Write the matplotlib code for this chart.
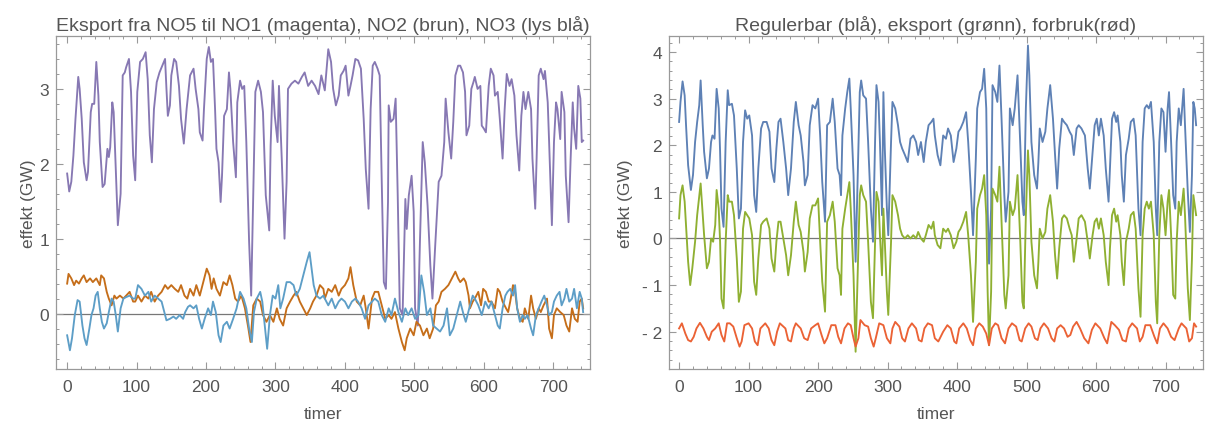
import matplotlib
matplotlib.use("Agg")
import matplotlib.pyplot as plt
from matplotlib.ticker import MultipleLocator, FuncFormatter

plt.rcParams['font.family'] = ['Liberation Sans', 'DejaVu Sans']

# (hour, GW) pairs at the visible turning points
# left panel: export from NO5
no1 = [(0, 1.87), (3, 1.63), (6, 1.76), (9, 2.11), (12, 2.6), (16, 3.16), (18, 3.0), (21, 2.6), (24, 2.02),
       (28, 1.78), (30, 1.89), (34, 2.69), (36, 2.8), (39, 2.8), (42, 3.36), (45, 2.91), (47, 2.29), (51, 1.69),
       (54, 1.73), (58, 2.2), (60, 2.09), (62, 2.22), (65, 2.82), (67, 2.69), (70, 1.93), (73, 1.18), (77, 1.6),
       (80, 3.18), (83, 3.22), (85, 3.29), (89, 3.4), (92, 2.96), (95, 2.11), (98, 1.78), (101, 2.96), (105, 3.36),
       (109, 3.4), (113, 3.49), (116, 3.13), (119, 2.38), (122, 2.02), (125, 2.73), (129, 3.09), (133, 3.22),
       (137, 3.31), (141, 3.4), (143, 3.0), (145, 2.64), (148, 2.78), (150, 3.18), (154, 3.4), (157, 3.36),
       (161, 3.04), (164, 2.6), (168, 2.27), (172, 2.73), (177, 3.18), (182, 3.27), (185, 3.0), (189, 2.73),
       (191, 2.42), (195, 2.31), (197, 2.73), (201, 3.4), (204, 3.56), (207, 3.36), (210, 3.4), (213, 2.73),
       (215, 2.2), (218, 2.02), (221, 1.49), (223, 1.84), (226, 2.64), (230, 2.73), (233, 3.22), (235, 3.0),
       (239, 2.29), (243, 1.82), (245, 2.82), (249, 3.11), (252, 3.0), (255, 3.04), (258, 2.29), (262, 0.96),
       (265, 0.24), (268, 1.58), (271, 2.96), (275, 3.11), (279, 2.96), (282, 2.69), (286, 1.58), (291, 1.11),
       (293, 2.24), (296, 3.11), (299, 2.64), (303, 2.29), (305, 3.04), (309, 2.07), (313, 1.0), (316, 1.76),
       (318, 3.0), (323, 3.07), (328, 3.11), (333, 3.07), (338, 3.16), (342, 3.22), (347, 3.04), (352, 3.11),
       (357, 3.04), (362, 2.93), (366, 3.18), (371, 2.98), (376, 3.53), (380, 3.36), (383, 3.0), (387, 2.78),
       (391, 2.91), (394, 3.18), (398, 3.24), (401, 3.31), (405, 2.91), (408, 3.04), (411, 3.18), (415, 3.4),
       (419, 3.38), (423, 3.27), (427, 2.6), (430, 1.93), (434, 1.4), (437, 2.73), (440, 3.31), (443, 3.36),
       (447, 3.27), (450, 3.18), (453, 1.76), (456, 0.42), (459, 0.33), (462, 1.49), (463, 2.78), (466, 2.56),
       (470, 2.6), (473, 2.87), (476, 1.58), (479, 0.07), (483, -0.02), (487, 1.53), (489, 1.13), (492, 1.58),
       (496, 1.84), (499, 1.36), (501, 0.07), (505, -0.16), (508, 0.96), (512, 2.29), (515, 2.02), (519, 1.44),
       (523, 0.64), (526, 0.2), (530, 0.91), (535, 1.76), (539, 1.84), (543, 2.29), (545, 2.87), (549, 2.42),
       (553, 2.07), (556, 2.56), (559, 3.18), (563, 3.31), (566, 3.31), (570, 3.22), (573, 2.96), (575, 2.38),
       (579, 2.51), (582, 3.0), (585, 3.09), (587, 3.16), (591, 3.0), (595, 3.04), (597, 2.51), (600, 2.47),
       (603, 2.42), (607, 3.04), (610, 3.27), (614, 3.18), (616, 2.91), (620, 2.96), (623, 2.6), (627, 2.07),
       (630, 2.73), (633, 3.2), (637, 3.04), (640, 3.13), (644, 2.91), (647, 2.38), (651, 1.91), (654, 2.64),
       (657, 2.96), (660, 2.73), (664, 2.96), (668, 2.73), (670, 2.07), (674, 1.4), (676, 2.07), (679, 3.18),
       (682, 3.27), (686, 3.13), (688, 3.24), (692, 2.82), (694, 2.29), (698, 1.18), (701, 2.29), (704, 2.82),
       (706, 2.73), (710, 2.33), (712, 2.96), (716, 2.69), (718, 1.84), (722, 1.22), (725, 2.07), (728, 2.82),
       (730, 2.47), (733, 2.2), (736, 3.04), (739, 2.87), (741, 2.29), (743, 2.31)]

no2 = [(0, 0.4), (2, 0.53), (6, 0.47), (10, 0.38), (13, 0.44), (17, 0.4), (21, 0.47), (24, 0.51), (28, 0.42),
       (33, 0.47), (37, 0.42), (42, 0.47), (47, 0.38), (49, 0.51), (53, 0.47), (57, 0.29), (60, 0.2), (64, 0.11),
       (68, 0.24), (71, 0.2), (76, 0.24), (81, 0.2), (85, 0.24), (90, 0.29), (95, 0.16), (98, 0.16), (102, 0.24),
       (107, 0.16), (112, 0.24), (117, 0.2), (121, 0.29), (126, 0.16), (131, 0.24), (136, 0.29), (141, 0.38),
       (145, 0.33), (150, 0.38), (155, 0.33), (160, 0.29), (164, 0.38), (169, 0.24), (173, 0.2), (177, 0.33),
       (182, 0.24), (186, 0.38), (191, 0.24), (196, 0.42), (201, 0.6), (205, 0.51), (208, 0.33), (211, 0.47),
       (215, 0.33), (220, 0.24), (225, 0.42), (230, 0.38), (234, 0.51), (238, 0.38), (242, 0.2), (246, 0.16),
       (251, 0.24), (256, 0.07), (261, -0.2), (264, -0.38), (268, 0.11), (273, 0.2), (278, 0.16), (282, -0.02),
       (287, -0.11), (292, -0.02), (297, -0.11), (302, 0.07), (306, -0.07), (311, -0.16), (316, 0.07), (321, 0.16),
       (326, 0.24), (330, 0.29), (335, 0.16), (340, 0.07), (345, -0.02), (350, 0.07), (354, 0.16), (359, 0.24),
       (364, 0.38), (369, 0.33), (371, 0.2), (376, 0.33), (381, 0.29), (386, 0.38), (391, 0.24), (395, 0.33),
       (400, 0.38), (405, 0.47), (408, 0.62), (412, 0.38), (417, 0.16), (422, 0.11), (427, 0.24), (430, 0.07),
       (434, -0.2), (439, 0.2), (443, 0.29), (448, 0.29), (453, 0.11), (458, -0.07), (463, -0.02), (467, -0.07),
       (472, 0.02), (477, -0.2), (482, -0.38), (486, -0.49), (489, -0.33), (494, -0.2), (499, -0.29), (503, -0.11),
       (508, -0.16), (513, -0.29), (518, -0.2), (522, -0.33), (527, -0.2), (531, 0.11), (535, 0.16), (539, 0.29),
       (544, 0.33), (549, 0.38), (554, 0.47), (559, 0.56), (563, 0.47), (566, 0.42), (571, 0.47), (574, 0.42),
       (578, 0.24), (580, 0.07), (584, 0.16), (587, 0.2), (592, 0.29), (596, 0.11), (599, 0.33), (603, 0.29),
       (607, 0.16), (611, 0.16), (616, 0.07), (620, 0.33), (623, 0.29), (627, 0.16), (632, 0.07), (635, 0.02),
       (638, 0.16), (642, 0.38), (645, 0.29), (648, 0.07), (652, -0.07), (656, -0.11), (659, 0.07), (664, -0.07),
       (668, 0.24), (671, 0.07), (675, -0.07), (679, 0.07), (682, 0.02), (686, 0.11), (691, 0.2), (694, -0.2),
       (698, -0.33), (701, -0.02), (705, 0.07), (710, 0.02), (715, -0.02), (719, -0.16), (723, -0.24), (727, 0.07),
       (731, -0.07), (735, -0.11), (738, 0.16), (741, 0.2), (743, 0.07)]

no3 = [(0, -0.29), (4, -0.49), (7, -0.33), (11, -0.02), (15, 0.18), (18, 0.16), (22, -0.16), (25, -0.33),
       (28, -0.42), (32, -0.2), (35, -0.02), (38, 0.07), (41, 0.24), (44, 0.29), (47, 0.07), (50, -0.11),
       (53, -0.2), (57, -0.13), (60, 0.02), (64, 0.2), (67, 0.16), (70, -0.02), (73, -0.24), (77, 0.07), (81, 0.2),
       (85, 0.22), (90, 0.24), (95, 0.2), (98, 0.2), (102, 0.38), (107, 0.33), (112, 0.24), (117, 0.29),
       (121, 0.16), (126, 0.24), (131, 0.2), (136, 0.16), (140, 0.02), (143, -0.09), (148, -0.07), (153, -0.04),
       (157, -0.07), (162, -0.02), (167, -0.07), (170, 0.02), (174, 0.09), (177, 0.11), (182, 0.07), (186, 0.11),
       (190, -0.07), (194, -0.2), (198, -0.07), (203, 0.07), (207, -0.02), (210, 0.16), (214, 0.02), (218, -0.29),
       (221, -0.38), (225, -0.16), (230, -0.11), (234, -0.2), (239, -0.07), (244, 0.07), (249, 0.29), (254, 0.2),
       (258, 0.07), (262, -0.2), (266, -0.38), (269, 0.02), (273, 0.2), (278, 0.29), (281, 0.16), (285, -0.2),
       (288, -0.47), (292, -0.02), (296, 0.24), (300, 0.2), (304, 0.38), (307, 0.07), (311, 0.2), (316, 0.42),
       (321, 0.42), (326, 0.38), (330, 0.24), (335, 0.33), (340, 0.51), (345, 0.69), (349, 0.82), (352, 0.6),
       (355, 0.38), (359, 0.24), (364, 0.2), (369, 0.24), (371, 0.2), (376, 0.11), (381, 0.2), (386, 0.07),
       (391, 0.16), (395, 0.2), (400, 0.16), (405, 0.07), (410, 0.16), (415, 0.2), (419, 0.16), (424, 0.07),
       (429, -0.07), (434, 0.11), (439, 0.16), (443, 0.2), (448, 0.16), (453, -0.02), (458, -0.11), (463, 0.07),
       (467, -0.02), (472, 0.2), (477, 0.02), (482, -0.11), (487, 0.07), (491, -0.02), (496, 0.07), (501, -0.07),
       (506, -0.02), (510, 0.51), (514, 0.29), (518, -0.02), (523, 0.07), (527, -0.16), (532, -0.2), (537, -0.24),
       (542, -0.16), (547, 0.07), (551, -0.29), (556, -0.2), (561, -0.02), (566, 0.16), (571, -0.02), (574, -0.11),
       (579, 0.07), (584, 0.24), (587, 0.2), (592, 0.11), (597, -0.02), (602, 0.16), (607, 0.07), (611, 0.16),
       (616, -0.02), (620, -0.16), (623, -0.2), (627, 0.07), (631, 0.24), (634, 0.29), (638, 0.33), (642, 0.24),
       (645, 0.38), (648, 0.07), (652, -0.11), (656, -0.02), (659, -0.07), (663, -0.02), (668, -0.2), (671, -0.29),
       (675, -0.02), (679, 0.07), (683, 0.16), (687, 0.24), (691, 0.11), (694, -0.02), (698, 0.02), (701, 0.16),
       (705, 0.24), (709, 0.29), (712, 0.11), (716, 0.2), (719, 0.33), (723, 0.16), (727, 0.2), (730, 0.33),
       (734, 0.07), (738, 0.29), (741, 0.2), (743, 0.02)]

# right panel: regulated production, export, consumption
regulerbar = [(0, 2.5), (2, 2.93), (5, 3.37), (8, 3.07), (10, 2.43), (13, 1.57), (17, 1.04), (20, 1.36), (23, 2.07),
              (26, 2.5), (29, 2.86), (31, 3.39), (34, 2.43), (36, 1.86), (40, 1.29), (43, 1.5), (46, 2.07),
              (48, 2.21), (51, 2.14), (54, 3.21), (57, 2.79), (59, 1.86), (61, 0.64), (64, 0.25), (67, 2.07),
              (70, 3.18), (72, 2.86), (76, 2.89), (79, 2.64), (83, 1.5), (86, 0.43), (89, 0.64), (92, 2.07),
              (95, 2.75), (98, 2.57), (101, 2.64), (105, 2.21), (108, 0.93), (111, 0.57), (114, 1.5), (118, 2.36),
              (121, 2.5), (126, 2.5), (130, 2.29), (133, 1.5), (137, 1.21), (140, 1.93), (143, 2.5), (146, 2.57),
              (150, 2.07), (154, 1.5), (157, 0.93), (161, 1.5), (165, 2.5), (168, 2.93), (172, 2.43), (175, 2.21),
              (179, 1.64), (181, 1.14), (185, 1.36), (188, 2.43), (192, 2.86), (196, 2.79), (200, 3.0), (203, 2.21),
              (206, 1.21), (210, 0.36), (213, 2.43), (217, 2.5), (221, 3.0), (224, 2.5), (228, 1.5), (231, 1.36),
              (233, 0.93), (235, 2.21), (239, 2.79), (242, 3.14), (245, 3.43), (247, 2.79), (251, 1.36), (254, -0.5),
              (257, 1.36), (260, 3.14), (262, 3.39), (265, 3.07), (269, 3.0), (272, 2.07), (276, 0.64), (279, -0.07),
              (282, 2.07), (284, 3.29), (287, 2.93), (289, 2.07), (292, 0.5), (294, 3.14), (296, 1.93), (299, 0.64),
              (301, 0.07), (305, 2.07), (307, 2.93), (311, 2.79), (315, 2.43), (318, 2.07), (321, 1.93), (325, 1.79),
              (329, 1.64), (333, 2.14), (337, 2.21), (341, 2.07), (344, 1.79), (348, 2.07), (352, 1.64), (355, 2.07),
              (359, 2.43), (363, 2.5), (366, 2.57), (368, 2.21), (372, 1.79), (376, 1.57), (380, 2.21), (384, 2.14),
              (387, 2.36), (391, 2.21), (395, 1.64), (399, 1.93), (402, 2.29), (405, 2.36), (409, 2.5), (413, 2.71),
              (416, 2.07), (420, 1.0), (423, 0.07), (427, 1.71), (429, 2.79), (433, 3.14), (436, 3.21), (439, 3.64),
              (442, 2.79), (444, 0.64), (446, -0.54), (449, 0.64), (451, 3.29), (455, 3.14), (458, 2.93), (461, 3.71),
              (464, 2.57), (468, 0.93), (470, 0.36), (474, 1.0), (476, 2.79), (480, 2.43), (483, 2.79), (487, 3.5),
              (491, 2.0), (494, 0.79), (496, 0.5), (499, 2.79), (502, 4.14), (504, 3.5), (507, 2.07), (511, 1.36),
              (515, 1.07), (517, 1.64), (519, 2.36), (523, 2.07), (527, 2.29), (530, 2.79), (534, 3.29), (538, 2.57),
              (541, 1.79), (544, 1.07), (547, 1.93), (551, 2.57), (554, 2.5), (558, 2.43), (562, 2.29), (565, 2.21),
              (568, 1.79), (572, 2.36), (575, 2.43), (579, 2.36), (584, 2.21), (588, 1.5), (591, 1.07), (595, 1.86),
              (598, 2.43), (601, 2.57), (604, 2.21), (607, 2.57), (611, 2.21), (614, 1.5), (618, 0.79), (620, 1.5),
              (623, 2.57), (626, 2.71), (629, 2.5), (631, 2.64), (635, 2.07), (637, 1.36), (640, 0.79), (643, 1.79),
              (647, 2.14), (650, 2.5), (654, 2.57), (657, 2.21), (661, 0.64), (664, 0.07), (667, 2.07), (670, 2.79),
              (673, 2.86), (676, 2.79), (679, 2.93), (683, 2.07), (686, 0.64), (688, 0.07), (691, 2.07), (694, 2.79),
              (697, 2.71), (700, 1.86), (703, 2.79), (705, 3.14), (708, 2.07), (711, 0.93), (714, 0.64), (716, 2.07),
              (719, 2.79), (722, 2.43), (726, 3.21), (728, 2.43), (732, 1.0), (735, 0.14), (738, 1.36), (740, 2.93),
              (742, 2.79), (744, 2.43)]

eksport = [(0, 0.43), (2, 0.93), (5, 1.14), (8, 0.79), (10, 0.29), (13, -0.5), (16, -1.0), (19, -0.64), (23, -0.07),
           (26, 0.5), (31, 1.18), (34, 0.5), (36, 0.07), (40, -0.64), (43, -0.5), (46, 0.0), (49, -0.07), (52, 0.29),
           (54, 1.04), (57, 0.64), (59, -0.07), (61, -1.29), (64, -1.5), (67, -0.07), (70, 0.93), (72, 0.79),
           (76, 0.79), (79, 0.5), (83, -0.43), (86, -1.36), (89, -1.14), (92, 0.21), (95, 0.57), (98, 0.5),
           (101, 0.43), (105, 0.07), (108, -0.93), (111, -1.21), (114, -0.43), (118, 0.29), (121, 0.36), (126, 0.43),
           (130, 0.21), (133, -0.43), (137, -0.71), (140, -0.07), (143, 0.36), (146, 0.36), (150, 0.0), (154, -0.36),
           (157, -0.79), (161, -0.36), (165, 0.36), (168, 0.79), (172, 0.29), (175, 0.14), (179, -0.29), (181, -0.71),
           (185, -0.29), (188, 0.43), (192, 0.71), (196, 0.71), (200, 0.86), (203, -0.07), (206, -0.93), (210, -1.57),
           (213, 0.36), (217, 0.5), (221, 0.79), (224, 0.36), (228, -0.64), (231, -0.79), (233, -1.21), (235, 0.21),
           (239, 0.64), (242, 0.93), (245, 1.21), (247, 0.64), (251, -0.79), (254, -2.43), (257, -0.79), (260, 0.93),
           (262, 1.14), (265, 0.93), (269, 0.79), (272, -0.07), (276, -1.36), (279, -1.71), (282, -0.07), (284, 1.0),
           (287, 0.79), (289, 0.07), (292, -0.79), (294, 0.64), (296, -0.07), (299, -1.14), (301, -1.64), (305, -0.07),
           (307, 0.93), (311, 0.79), (315, 0.5), (318, 0.21), (321, 0.07), (325, 0.0), (329, 0.07), (333, 0.0),
           (337, 0.07), (341, 0.0), (344, 0.14), (348, 0.0), (352, -0.07), (355, 0.07), (359, 0.29), (363, 0.21),
           (366, 0.36), (368, 0.07), (372, -0.14), (376, -0.21), (380, 0.21), (384, 0.14), (387, 0.21), (391, 0.07),
           (395, -0.21), (399, -0.07), (402, 0.14), (405, 0.21), (409, 0.36), (413, 0.57), (416, 0.07), (420, -0.79),
           (423, -1.79), (427, -0.5), (429, 0.64), (433, 0.93), (436, 1.07), (439, 1.36), (442, 0.5), (444, -1.14),
           (446, -2.29), (449, -1.14), (451, 1.07), (455, 0.93), (458, 0.79), (461, 1.54), (464, 0.36), (468, -1.21),
           (470, -1.5), (474, -0.79), (476, 0.79), (480, 0.5), (483, 0.64), (487, 1.36), (491, -0.07), (494, -1.36),
           (496, -1.5), (499, 0.5), (502, 1.89), (504, 1.36), (507, -0.07), (511, -0.79), (515, -1.07), (517, -0.5),
           (519, 0.21), (523, 0.0), (527, 0.14), (530, 0.64), (534, 0.93), (538, 0.36), (541, -0.36), (544, -0.86),
           (547, -0.21), (551, 0.43), (554, 0.5), (558, 0.43), (562, 0.21), (565, 0.07), (568, -0.5), (572, 0.0),
           (575, 0.43), (579, 0.5), (584, 0.36), (588, -0.07), (591, -0.43), (595, 0.07), (598, 0.36), (601, 0.43),
           (604, 0.21), (607, 0.43), (611, 0.07), (614, -0.5), (618, -1.0), (620, -0.21), (623, 0.5), (626, 0.64),
           (629, 0.36), (631, 0.5), (635, 0.07), (637, -0.5), (640, -1.0), (643, -0.07), (647, 0.21), (650, 0.5),
           (654, 0.57), (657, 0.21), (661, -1.07), (664, -1.68), (667, 0.07), (670, 0.64), (673, 0.79), (676, 0.64),
           (679, 0.79), (683, 0.07), (686, -1.36), (688, -1.82), (691, 0.07), (694, 0.93), (697, 0.64), (700, 0.07),
           (703, 0.79), (705, 1.04), (708, 0.07), (711, -1.21), (714, -1.29), (716, -0.07), (719, 0.79), (722, 0.5),
           (726, 1.07), (728, 0.5), (732, -1.07), (735, -1.75), (738, -0.43), (740, 0.93), (742, 0.71), (744, 0.5)]

forbruk = [(0, -1.93), (4, -1.82), (9, -2.04), (13, -2.18), (17, -2.21), (21, -2.11), (25, -1.93), (30, -1.81),
           (35, -1.93), (40, -2.11), (43, -2.18), (47, -2.0), (52, -1.93), (57, -1.82), (61, -2.07), (65, -2.21),
           (69, -1.82), (73, -1.82), (78, -1.89), (83, -2.14), (87, -2.32), (90, -2.21), (94, -1.86), (100, -1.82),
           (105, -1.93), (109, -2.21), (113, -2.29), (117, -1.93), (124, -1.82), (129, -1.93), (133, -2.18),
           (137, -2.29), (141, -2.0), (145, -1.82), (153, -1.93), (157, -2.18), (161, -2.21), (165, -1.93),
           (168, -1.82), (175, -1.93), (180, -2.14), (185, -2.18), (190, -1.93), (196, -1.86), (200, -1.82),
           (205, -2.07), (209, -2.25), (213, -2.14), (219, -1.86), (225, -1.86), (229, -2.11), (233, -2.25),
           (238, -1.93), (243, -1.82), (247, -1.86), (251, -2.14), (254, -2.32), (258, -2.14), (261, -1.75),
           (267, -1.86), (272, -1.89), (276, -2.14), (280, -2.32), (283, -2.14), (288, -1.82), (294, -1.86),
           (299, -2.14), (304, -2.25), (307, -1.93), (311, -1.79), (317, -1.89), (321, -2.14), (325, -2.21),
           (330, -1.93), (335, -1.82), (341, -1.93), (345, -2.18), (349, -2.21), (353, -1.93), (358, -1.82),
           (364, -1.86), (368, -2.14), (373, -2.21), (380, -2.0), (386, -1.86), (391, -1.93), (396, -2.21),
           (399, -2.25), (403, -1.93), (409, -1.82), (414, -1.93), (419, -2.18), (423, -2.29), (427, -1.93),
           (432, -1.82), (437, -1.89), (442, -2.04), (446, -2.29), (450, -1.93), (455, -1.82), (459, -1.86),
           (464, -2.14), (469, -2.25), (474, -1.93), (479, -1.82), (485, -1.89), (490, -2.18), (493, -2.21),
           (498, -1.93), (503, -1.82), (507, -1.89), (512, -2.14), (516, -2.18), (520, -1.93), (525, -1.82),
           (531, -1.93), (536, -2.14), (540, -2.21), (544, -1.93), (549, -1.86), (554, -1.93), (559, -2.11),
           (563, -2.07), (567, -1.89), (572, -1.79), (577, -1.93), (583, -2.14), (589, -2.25), (594, -1.96),
           (599, -1.82), (606, -1.93), (612, -2.14), (616, -2.25), (622, -1.79), (627, -1.86), (633, -1.96),
           (638, -2.18), (643, -2.21), (647, -1.93), (652, -1.82), (659, -1.93), (663, -2.21), (667, -2.11),
           (671, -1.86), (678, -1.86), (684, -2.11), (688, -2.25), (692, -1.93), (697, -1.82), (703, -1.93),
           (708, -2.11), (713, -2.18), (719, -1.93), (723, -1.82), (730, -1.93), (734, -2.21), (738, -2.14),
           (741, -1.82), (744, -1.89)]

# Mathematica default palette
purple, brown, lightblue = '#8778B3', '#C56E1A', '#5D9EC7'
blue, green, red = '#5E81B5', '#8FB032', '#EB6235'
textc = '#555555'
framec = '#999999'


def style_axes(ax, ylabelpad):
    for s in ax.spines.values():
        s.set_color(framec)
        s.set_linewidth(0.9)
    ax.xaxis.set_major_locator(MultipleLocator(100))
    ax.xaxis.set_minor_locator(MultipleLocator(20))
    ax.yaxis.set_major_locator(MultipleLocator(1))
    ax.yaxis.set_minor_locator(MultipleLocator(0.2))
    ax.tick_params(which='both', direction='in', top=True, right=True, color=framec,
                   labelcolor=textc, labelsize=12.5)
    ax.tick_params(which='major', length=5, width=0.8)
    ax.tick_params(which='minor', length=2.5, width=0.7)
    ax.tick_params(axis='x', pad=7)
    ax.tick_params(axis='y', pad=5)
    ax.axhline(0, color='#777777', lw=0.9, zorder=1)
    ax.set_xlabel('timer', color=textc, fontsize=12.5, labelpad=9)
    ax.set_ylabel('effekt (GW)', color=textc, fontsize=12.5, labelpad=ylabelpad)


def plot_series(ax, pairs, color):
    t, v = zip(*pairs)
    ax.plot(t, v, color=color, lw=1.35, zorder=2)


fig = plt.figure(figsize=(12.05, 4.27), dpi=100)

ax1 = fig.add_axes([0.0465, 0.1335, 0.4432, 0.7805])
plot_series(ax1, no1, purple)
plot_series(ax1, no2, brown)
plot_series(ax1, no3, lightblue)
ax1.set_xlim(-16, 753)
ax1.set_ylim(-0.74, 3.71)
style_axes(ax1, 2.5)
ax1.set_title('Eksport fra NO5 til NO1 (magenta), NO2 (brun), NO3 (lys blå)',
              color=textc, fontsize=14, pad=4)

ax2 = fig.add_axes([0.5552, 0.1335, 0.4432, 0.7805])
plot_series(ax2, regulerbar, blue)
plot_series(ax2, eksport, green)
plot_series(ax2, forbruk, red)
ax2.set_xlim(-14.5, 754)
ax2.set_ylim(-2.8, 4.35)
style_axes(ax2, 6)
ax2.yaxis.set_major_formatter(FuncFormatter(lambda v, p: f'- {abs(int(round(v)))}' if v < 0 else f'{int(round(v))}'))
ax2.set_title('Regulerbar (blå), eksport (grønn), forbruk(rød)', color=textc, fontsize=14, pad=4)

fig.savefig('out.png', dpi=100)
